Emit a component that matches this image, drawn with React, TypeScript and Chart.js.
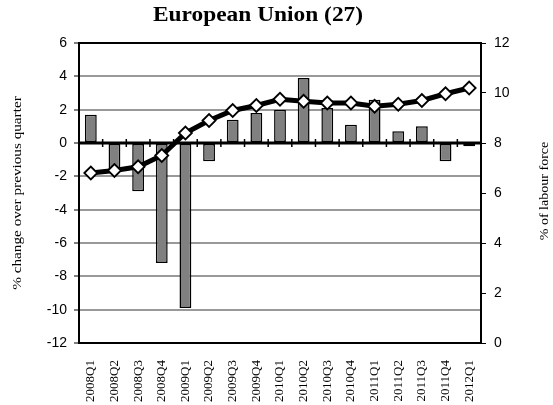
import React, { useEffect, useRef } from "react";
import { Chart, registerables } from "chart.js";

Chart.register(...registerables);

const TITLE = "European Union (27)";
const LEFT_TITLE = "% change over previous quarter";
const RIGHT_TITLE = "% of labour force";

const quarters = [
  "2008Q1", "2008Q2", "2008Q3", "2008Q4",
  "2009Q1", "2009Q2", "2009Q3", "2009Q4",
  "2010Q1", "2010Q2", "2010Q3", "2010Q4",
  "2011Q1", "2011Q2", "2011Q3", "2011Q4",
  "2012Q1",
];

// bars, left axis: % change over previous quarter
const changeValues = [1.7, -1.6, -2.9, -7.2, -9.9, -1.1, 1.4, 1.8, 2.0, 3.9, 2.1, 1.1, 2.6, 0.7, 1.0, -1.1, -0.2];

// line, right axis: % of labour force
const rateValues = [6.8, 6.9, 7.05, 7.5, 8.4, 8.9, 9.3, 9.5, 9.75, 9.67, 9.6, 9.6, 9.47, 9.55, 9.7, 9.97, 10.2];

const leftTicks = { min: -12, max: 6, step: 2 };
const rightTicks = { min: 0, max: 12, step: 2 };

const SERIF = "'Liberation Serif', 'Times New Roman', serif";
const SANS = "'Liberation Sans', Arial, sans-serif";

const framePlugin = {
  id: "frame",
  beforeDatasetsDraw(chart: any) {
    const { ctx, chartArea } = chart;
    const y = chart.scales.y;
    const x = chart.scales.x;
    ctx.save();
    // zero axis line
    const y0 = y.getPixelForValue(0);
    ctx.strokeStyle = "#000";
    ctx.lineWidth = 3;
    ctx.beginPath();
    ctx.moveTo(chartArea.left, y0);
    ctx.lineTo(chartArea.right, y0);
    ctx.stroke();
    // category tick marks
    ctx.lineWidth = 1.5;
    const n = quarters.length;
    for (let i = 1; i < n; i++) {
      const px = (x.getPixelForValue(i - 1) + x.getPixelForValue(i)) / 2;
      ctx.beginPath();
      ctx.moveTo(px, y0 - 4);
      ctx.lineTo(px, y0 + 4);
      ctx.stroke();
    }
    // frame
    ctx.lineWidth = 2;
    ctx.strokeRect(chartArea.left, chartArea.top, chartArea.right - chartArea.left, chartArea.bottom - chartArea.top);
    ctx.restore();
  },
  afterDraw(chart: any) {
    const { ctx, chartArea } = chart;
    const stretch = 1.17;
    ctx.save();
    ctx.fillStyle = "#000";
    // title
    ctx.font = `bold 20px ${SERIF}`;
    ctx.textAlign = "center";
    ctx.textBaseline = "alphabetic";
    ctx.save();
    ctx.translate(258, 21);
    ctx.scale(stretch, 1);
    ctx.fillText(TITLE, 0, 0);
    ctx.restore();
    const cy = (chartArea.top + chartArea.bottom) / 2;
    // left axis title
    ctx.font = `13px ${SERIF}`;
    ctx.textBaseline = "middle";
    ctx.save();
    ctx.translate(18, cy);
    ctx.rotate(-Math.PI / 2);
    ctx.scale(stretch, 1);
    ctx.fillText(LEFT_TITLE, 0, 0);
    ctx.restore();
    // right axis title
    ctx.font = `12px ${SERIF}`;
    ctx.save();
    ctx.translate(545, cy - 2);
    ctx.rotate(-Math.PI / 2);
    ctx.scale(stretch, 1);
    ctx.fillText(RIGHT_TITLE, 0, 0);
    ctx.restore();
    ctx.restore();
  },
};

export default function App() {
  const ref = useRef<HTMLCanvasElement>(null);

  useEffect(() => {
    if (!ref.current) return;
    const chart = new Chart(ref.current, {
      type: "bar",
      data: {
        labels: quarters,
        datasets: [
          {
            type: "line",
            label: "Unemployment rate",
            data: rateValues,
            yAxisID: "y1",
            borderColor: "#000",
            borderWidth: 5,
            tension: 0,
            pointStyle: "rectRot",
            pointRadius: 6.5,
            pointBackgroundColor: "#fff",
            pointBorderColor: "#000",
            pointBorderWidth: 1.8,
            order: 0,
          } as any,
          {
            type: "bar",
            label: "Change",
            data: changeValues,
            yAxisID: "y",
            backgroundColor: "#808080",
            borderColor: "#000",
            borderWidth: 1.5,
            borderSkipped: false,
            barPercentage: 0.5,
            categoryPercentage: 1.0,
            order: 1,
          },
        ],
      },
      options: {
        responsive: false,
        animation: false,
        layout: { padding: { top: 43, left: 0, right: 0, bottom: 0 } },
        plugins: {
          legend: { display: false },
          title: { display: false },
          tooltip: { enabled: false },
        },
        scales: {
          x: {
            type: "category",
            offset: true,
            grid: { display: false },
            border: { display: false },
            ticks: {
              autoSkip: false,
              maxRotation: 90,
              minRotation: 90,
              padding: 9,
              color: "#000",
              font: { family: SERIF, size: 13 },
            },
            afterFit: (s: any) => { s.height = 62; },
          },
          y: {
            position: "left",
            min: leftTicks.min,
            max: leftTicks.max,
            ticks: {
              stepSize: leftTicks.step,
              padding: 7,
              color: "#000",
              font: { family: SANS, size: 14 },
            },
            grid: {
              color: "#999",
              lineWidth: 2,
              tickLength: 5,
              tickColor: "#000",
              tickWidth: 1,
            },
            border: { display: false },
            afterFit: (s: any) => { s.width = 79; },
          },
          y1: {
            position: "right",
            min: rightTicks.min,
            max: rightTicks.max,
            ticks: {
              stepSize: rightTicks.step,
              padding: 8,
              color: "#000",
              font: { family: SANS, size: 14 },
            },
            grid: {
              drawOnChartArea: false,
              tickLength: 5,
              tickColor: "#000",
              tickWidth: 1,
            },
            border: { display: false },
            afterFit: (s: any) => { s.width = 72; },
          },
        },
      } as any,
      plugins: [framePlugin],
    });
    return () => chart.destroy();
  }, []);

  return (
    <div style={{ position: "absolute", left: 0, top: 0, width: 553, height: 405, background: "#fff" }}>
      <canvas ref={ref} width={553} height={405} style={{ display: "block" }} />
    </div>
  );
}
